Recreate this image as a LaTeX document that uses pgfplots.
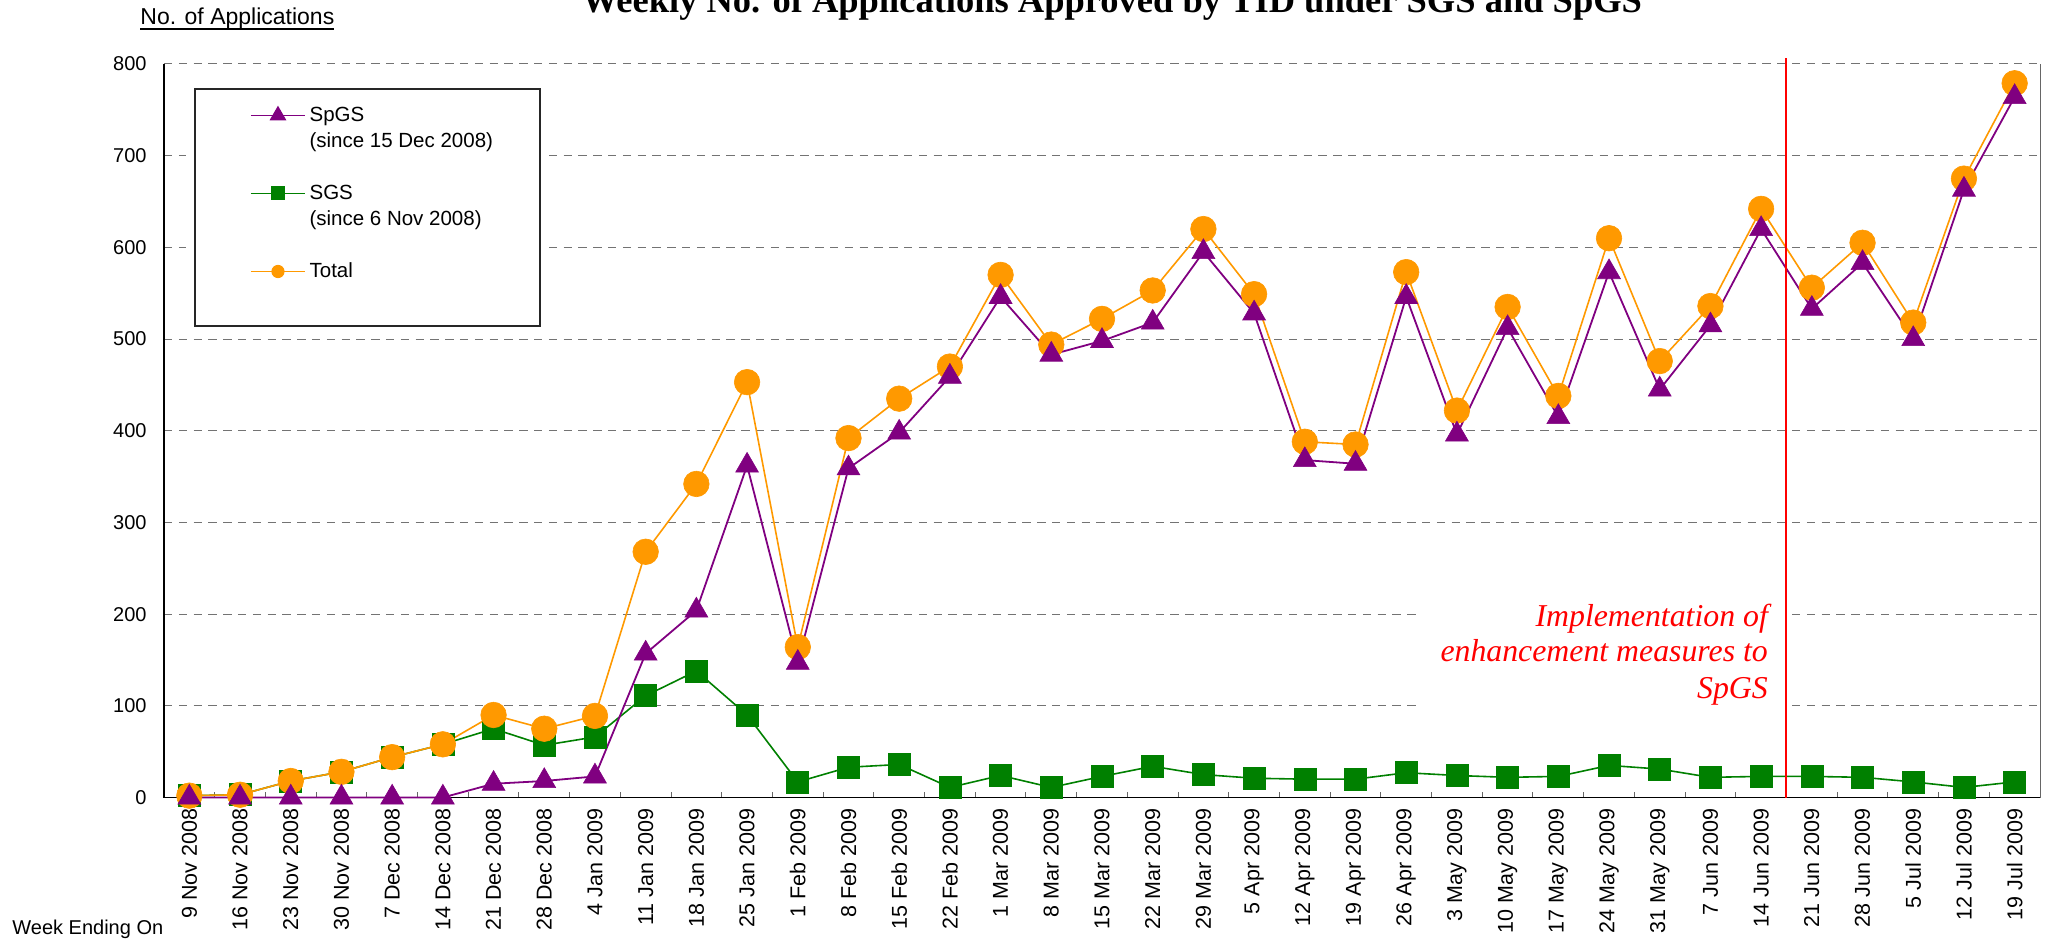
\documentclass[border=0pt]{standalone}
\usepackage{fontspec}
\setmainfont{Liberation Sans}
\newfontfamily\serifb{Liberation Serif}
\usepackage{pgfplots}
\pgfplotsset{compat=1.18}
\usepackage{pgfplotstable}
\definecolor{spurple}{RGB}{128,0,128}
\definecolor{sgreen}{RGB}{0,128,0}
\definecolor{torange}{RGB}{255,153,0}
\pgfplotstableread{
idx spgs sgs total
0 0 2 2
1 0 3 3
2 0 18 18
3 0 28 28
4 0 44 44
5 0 58 58
6 15 75 90
7 18 57 75
8 23 66 89
9 157 111 268
10 204 138 342
11 362 90 453
12 147 17 164
13 359 33 392
14 398 36 435
15 459 11 470
16 546 24 570
17 483 11 494
18 498 23 522
19 518 34 553
20 595 25 620
21 528 21 549
22 368 20 388
23 364 20 385
24 546 27 573
25 396 24 422
26 512 22 535
27 415 23 438
28 573 35 610
29 445 31 476
30 515 22 536
31 620 23 642
32 533 23 556
33 583 22 605
34 500 17 518
35 663 11 675
36 764 17 779
}\datatable
\pgfplotsset{legend image code/.code={\draw[mark repeat=2,mark phase=2,#1] plot coordinates {(0pt,2.8pt) (13.5pt,2.8pt) (27pt,2.8pt)};}}
\begin{document}
\begin{tikzpicture}
\path[use as bounding box, clip] (-82pt,-72.75pt) rectangle (944.5pt,398.75pt);
\begin{axis}[
  at={(0pt,0pt)}, anchor=south west,
  scale only axis, width=938pt, height=366.75pt,
  xmin=-0.5, xmax=36.5, ymin=0, ymax=800,
  clip=false,
  axis x line*=bottom, axis y line*=left,
  axis line style={black, line width=0.6pt},
  ytick={0,100,...,800},
  ymajorgrids,
  grid style={black!55, line width=0.5pt, dash pattern=on 4.2pt off 3.2pt},
  xtick={0,...,36},
  xticklabels={9 Nov 2008,16 Nov 2008,23 Nov 2008,30 Nov 2008,7 Dec 2008,14 Dec 2008,21 Dec 2008,28 Dec 2008,4 Jan 2009,11 Jan 2009,18 Jan 2009,25 Jan 2009,1 Feb 2009,8 Feb 2009,15 Feb 2009,22 Feb 2009,1 Mar 2009,8 Mar 2009,15 Mar 2009,22 Mar 2009,29 Mar 2009,5 Apr 2009,12 Apr 2009,19 Apr 2009,26 Apr 2009,3 May 2009,10 May 2009,17 May 2009,24 May 2009,31 May 2009,7 Jun 2009,14 Jun 2009,21 Jun 2009,28 Jun 2009,5 Jul 2009,12 Jul 2009,19 Jul 2009},
  minor xtick={0.5,1.5,...,35.5},
  major tick length=0pt, minor tick length=3pt, tick align=inside,
  minor tick style={black!60, line width=0.5pt},
  xticklabel style={font=\fontsize{10.75}{12}\selectfont, yshift=-5.5pt, rotate=90, anchor=east, inner sep=0pt},
  yticklabel style={font=\fontsize{10}{12}\selectfont, anchor=east, inner sep=0pt, xshift=-8.5pt},
  /pgf/number format/assume math mode=true,
  legend style={draw=none, fill=none, at={(0.04584,0.95024)}, anchor=north west,
    inner sep=0pt, row sep=26.4pt, column sep=1pt,
    cells={anchor=base west},
    nodes={inner sep=1pt, font=\fontsize{10.25}{13}\selectfont}},
]
\addlegendimage{spurple, line width=0.6pt, mark=triangle*, mark size=4.3pt, mark options={solid, fill=spurple, draw=spurple}}
\addlegendentry{\begin{tabular}[t]{@{}l@{}}SpGS\\(since 15 Dec 2008)\end{tabular}}
\addlegendimage{sgreen, line width=0.6pt, mark=square*, mark size=3.2pt, mark options={solid, fill=sgreen, draw=sgreen}}
\addlegendentry{\begin{tabular}[t]{@{}l@{}}SGS\\(since 6 Nov 2008)\end{tabular}}
\addlegendimage{torange, line width=0.6pt, mark=*, mark size=3pt, mark options={solid, fill=torange, draw=torange}}
\addlegendentry{\begin{tabular}[t]{@{}l@{}}Total\end{tabular}}

\fill[white] (axis cs:24.24,90) rectangle (axis cs:31.58,221);
\fill[white] (rel axis cs:0.012,0.977) rectangle (rel axis cs:0.2047,0.6319);
\filldraw[fill=white, draw=black!85, line width=0.6pt] (rel axis cs:0.016525,0.965917) rectangle (rel axis cs:0.200426,0.642808);

\addplot[forget plot, sgreen, line width=0.8pt, mark=square*, mark size=5.5pt, mark options={solid, fill=sgreen, draw=sgreen, line width=0.3pt}] table[x=idx,y=sgs]{\datatable};
\addplot[forget plot, torange, line width=0.8pt, mark=*, mark size=6.4pt, mark options={solid, fill=torange, draw=torange, line width=0.3pt}] table[x=idx,y=total]{\datatable};
\addplot[forget plot, spurple, line width=0.9pt, mark=triangle*, mark size=6.6pt, mark options={solid, fill=spurple, draw=spurple, line width=0.3pt}] table[x=idx,y=spgs]{\datatable};

\draw[red, line width=1pt] (axis cs:31.5,0) -- (axis cs:31.5,806);
\draw[black!60, line width=0.5pt] (rel axis cs:1,0) -- (rel axis cs:1,1);
\node[anchor=base east, inner sep=0pt, text=red, font=\serifb\itshape\fontsize{15.9}{17.75}\selectfont] at (axis cs:31.14,186) {Implementation of};
\node[anchor=base east, inner sep=0pt, text=red, font=\serifb\itshape\fontsize{15.9}{17.75}\selectfont] at (axis cs:31.14,148) {enhancement measures to};
\node[anchor=base east, inner sep=0pt, text=red, font=\serifb\itshape\fontsize{15.9}{17.75}\selectfont] at (axis cs:31.14,108.5) {SpGS};
\end{axis}
\node[anchor=base, inner sep=0pt, font=\serifb\bfseries\fontsize{18.25}{20}\selectfont] at (474pt,392.25pt) {Weekly No. of Applications Approved by TID under SGS and SpGS};
\node[anchor=base west, inner sep=0pt, font=\fontsize{11.5}{13}\selectfont] at (-12pt,386.25pt) {\setbox0\hbox{No. of Applications}\rlap{\rule[-2.35pt]{\wd0}{0.6pt}}\box0};
\node[anchor=base west, inner sep=0pt, font=\fontsize{10}{12}\selectfont] at (-76pt,-68.25pt) {Week Ending On};
\end{tikzpicture}
\end{document}
